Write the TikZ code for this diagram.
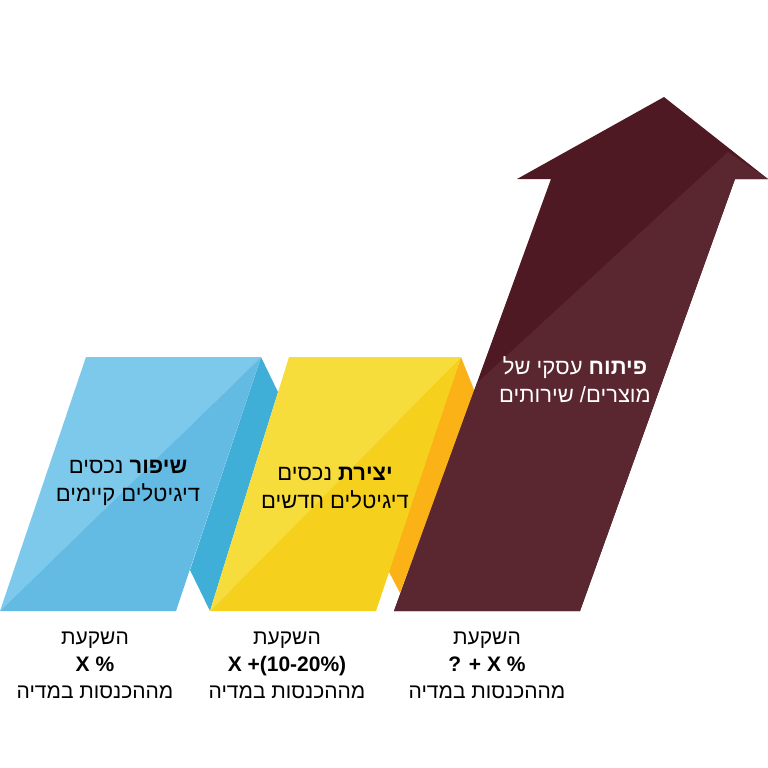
\documentclass[tikz,border=0pt]{standalone}
\usepackage{fontspec}
\setmainfont{Liberation Sans}
\newfontfamily\hebfont[Script=Hebrew]{Liberation Sans}
\newfontfamily\latfont{Liberation Sans}
\TeXXeTstate=1
\newcommand{\heb}[1]{\beginR #1\endR}
\usetikzlibrary{positioning}

\definecolor{blueface}{HTML}{63BBE4}
\definecolor{bluelight}{HTML}{7DC9EB}
\definecolor{blueside}{HTML}{40AFD8}
\definecolor{yellowface}{HTML}{F5D11E}
\definecolor{yellowlight}{HTML}{F7DD3C}
\definecolor{orangeside}{HTML}{FBB216}
\definecolor{maroondark}{HTML}{4E1922}
\definecolor{maroonlight}{HTML}{5A2630}

\begin{document}
\begin{tikzpicture}[x=0.5pt,y=-0.5pt]
  \tikzset{label/.style={font=\hebfont\fontsize{11}{14}\selectfont, align=center, inner sep=0pt},
    caption/.style={font=\hebfont\fontsize{10.5}{13.5}\selectfont, align=center, inner sep=0pt}}
  \useasboundingbox (0,0) rectangle (768,768);
  % blue block
  \fill[blueside] (261,357) -- (278,392) -- (210,611) -- (190,570) -- cycle;
  \fill[bluelight] (86,357) -- (261,357) -- (0,611) -- cycle;
  \fill[blueface] (261,357) -- (176,611) -- (0,611) -- cycle;
  % yellow block
  \fill[orangeside] (461,357) -- (475,392) -- (400,593) -- (388,570) -- cycle;
  \fill[yellowlight] (289,357) -- (461,357) -- (210,611) -- cycle;
  \fill[yellowface] (461,357) -- (376,611) -- (210,611) -- cycle;
  % arrow
  \fill[maroondark] (394,611) -- (551,179) -- (517,179) -- (664,97) -- (768,179)
    -- (735,179) -- (580,611) -- cycle;
  \fill[maroonlight] (477,383) -- (728,152) -- (768,179) -- (735,179) -- (580,611)
    -- (394,611) -- cycle;

  \node[label] (improve) at (128,483) {\heb{\textbf{שיפור} נכסים}\\\heb{דיגיטלים קיימים}};
  \node[label] (create) at (335,488) {\heb{\textbf{יצירת} נכסים}\\\heb{דיגיטלים חדשים}};
  \node[label, text=white] (develop) at (575,380) {\heb{\textbf{פיתוח} עסקי של}\\\heb{מוצרים/ שירותים}};

  \node[caption] (inv1) at (95,665) {\heb{השקעת}\\{\latfont\bfseries X \%}\\\heb{מההכנסות במדיה}};
  \node[caption] (inv2) at (287,665) {\heb{השקעת}\\{\latfont\bfseries X +(10-20\%)}\\\heb{מההכנסות במדיה}};
  \node[caption] (inv3) at (487,665) {\heb{השקעת}\\{\latfont\bfseries ? + X \%}\\\heb{מההכנסות במדיה}};
\end{tikzpicture}
\end{document}
